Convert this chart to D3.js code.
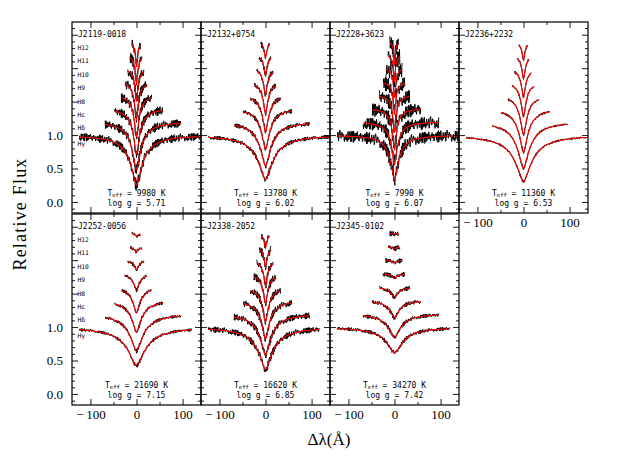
<!DOCTYPE html>
<html><head><meta charset="utf-8">
<script src="https://cdn.jsdelivr.net/npm/d3@7"></script>
<style>body{margin:0;background:#fff} svg{display:block} text{-webkit-font-smoothing:antialiased}</style>
</head><body><svg id="c" width="624" height="467"></svg>
<script>
// ---------------- data ----------------
const starNames = ["J2119-0018","J2132+0754","J2228+3623","J2236+2232","J2252-0056","J2338-2052","J2345-0102"];
const teffValues = [9980, 13780, 7990, 11360, 21690, 16620, 34270];
const loggValues = ["5.71", "6.02", "6.07", "6.53", "7.15", "6.85", "7.42"];
const lineLabels = ["Hγ","Hδ","Hε","H8","H9","H10","H11","H12"];
const lineOffsets = [0, 0.2, 0.4, 0.6, 0.8, 1.0, 1.2, 1.4];
const windowLeft  = [-124, -68, -48, -33, -25, -19, -14, -10];
const windowRight = [120, 96, 57, 33, 23, 17, 12, 9];
const hgRightEnd  = [140, 140, 140, 140, 120, 117, 120];
const hgWidth     = [16, 20, 11, 22, 24, 20, 22];
const widthRatio  = [1, 0.75, 0.55, 0.42, 0.33, 0.27, 0.22, 0.18];
const lineDepths = [
  [0.75,0.72,0.68,0.62,0.56,0.50,0.44,0.38],
  [0.67,0.66,0.62,0.56,0.48,0.40,0.32,0.25],
  [0.67,0.64,0.60,0.55,0.50,0.45,0.40,0.35],
  [0.70,0.70,0.66,0.60,0.52,0.44,0.36,0.28],
  [0.58,0.56,0.48,0.39,0.25,0.14,0.08,0.04],
  [0.63,0.62,0.58,0.52,0.45,0.38,0.30,0.22],
  [0.39,0.36,0.27,0.16,0.07,0.04,0.03,0.01]
];
const noiseLevel = [0.06, 0.03, 0.09, 0.015, 0.022, 0.045, 0.028];
const residualPattern = [0.31,-0.82,0.54,-0.12,0.97,-0.45,0.08,-0.66,0.73,-0.29,0.41,-0.93,0.18,0.62,-0.37,-0.05,0.85,-0.71,0.26,-0.19,0.58,-0.88,0.12,0.44,-0.53,0.69,-0.24,0.03,-0.77,0.91,-0.35,0.16,-0.61,0.49,-0.08,0.79,-0.96,0.22,0.37,-0.43,0.65,-0.14,-0.58,0.87,-0.31,0.05,0.71,-0.84,0.28,-0.02,0.53,-0.68,0.11,0.94,-0.39,-0.21,0.47,-0.74,0.33,0.60,-0.51,0.14,-0.90,0.76,-0.17,0.40,-0.63,0.07,0.82,-0.27,-0.46,0.57,-0.09,0.35,-0.79,0.99,-0.33,0.20,-0.55,0.67,-0.11,-0.70,0.45,0.02,-0.86,0.52,-0.23,0.74,-0.41,0.15,-0.60,0.89,-0.15,0.25,-0.98,0.63,-0.36];
const xMajorTicks = [-100, 0, 100];
const xMinorTicks = [-50, 50];
const yMajorTicks = [0, 0.5, 1.0, 1.5, 2.0, 2.5];
const yLabelTicks = [0, 0.5, 1.0];
const yMinorTicks = [-0.1,0.1,0.2,0.3,0.4,0.6,0.7,0.8,0.9,1.1,1.2,1.3,1.4,1.6,1.7,1.8,1.9,2.1,2.2,2.3,2.4,2.6];

// ---------------- layout ----------------
const svg = d3.select("#c");
const left0 = 72, panelW = 129, rowTop = [22, 214], rowH = 191;
const x = d3.scaleLinear().domain([-140, 140]).range([0, panelW]);
const y = d3.scaleLinear().domain([-0.165, 2.69]).range([rowH, 0]);
const monoFont = "'DejaVu Sans Mono', monospace";
const serifFont = "'Liberation Serif', 'Times New Roman', serif";

function model(p, k, dx) {
  const w = hgWidth[p] * widthRatio[k];
  const u = Math.abs(dx) / w;
  return 1 + lineOffsets[k] - lineDepths[p][k] / (1 + Math.pow(u, 1.6));
}

const line = d3.line().x(d => x(d[0])).y(d => y(d[1]));

starNames.forEach((name, p) => {
  const row = p < 4 ? 0 : 1, col = p < 4 ? p : p - 4;
  const gx = left0 + col * panelW, gy = rowTop[row];
  const g = svg.append("g").attr("transform", `translate(${gx},${gy})`);
  const clipId = "clip" + p;
  svg.append("clipPath").attr("id", clipId).append("rect")
    .attr("width", panelW).attr("height", rowH);
  const dg = g.append("g").attr("clip-path", `url(#${clipId})`);

  lineLabels.forEach((lab, k) => {
    const xl = windowLeft[k], xr = k === 0 ? hgRightEnd[p] : windowRight[k];
    const obs = [], mod = [];
    let j = 0;
    for (let dx = xl; dx <= xr; dx += 0.8, j++) {
      const m = model(p, k, dx);
      const amp = noiseLevel[p] * (1 + 0.06 * k) * Math.min(1.5, Math.sqrt((1 + lineOffsets[k]) / m));
      const r = residualPattern[(j * 7 + k * 29 + p * 13) % residualPattern.length];
      obs.push([dx, m + amp * r]);
    }
    for (let dx = xl; dx <= xr; dx += 0.5) mod.push([dx, model(p, k, dx)]);
    dg.append("path").datum(obs).attr("d", line)
      .attr("fill", "none").attr("stroke", "#000").attr("stroke-width", 1.0);
    dg.append("path").datum(mod).attr("d", line)
      .attr("fill", "none").attr("stroke", "#ff0000").attr("stroke-width", 1.1);
  });

  // axes (ticks inward)
  const showX = row === 1 || p === 3;
  const fmtX = d => d < 0 ? "\u2212\u2009" + Math.abs(d) : String(d);
  const ax = [
    g.append("g").attr("transform", `translate(0,${rowH})`)
      .call(d3.axisBottom(x).tickValues(xMajorTicks).tickSize(-6).tickPadding(5).tickFormat(showX ? fmtX : () => "")),
    g.append("g").attr("transform", `translate(0,${rowH})`)
      .call(d3.axisBottom(x).tickValues(xMinorTicks).tickSize(-3).tickFormat(() => "")),
    g.append("g").call(d3.axisTop(x).tickValues(xMajorTicks).tickSize(-6).tickFormat(() => "")),
    g.append("g").call(d3.axisTop(x).tickValues(xMinorTicks).tickSize(-3).tickFormat(() => "")),
    g.append("g").call(d3.axisLeft(y).tickValues(yMajorTicks).tickSize(-6).tickPadding(9)
      .tickFormat(d => (col === 0 && yLabelTicks.includes(d)) ? d3.format(".1f")(d) : "")),
    g.append("g").call(d3.axisLeft(y).tickValues(yMinorTicks).tickSize(-3).tickFormat(() => "")),
    g.append("g").attr("transform", `translate(${panelW},0)`)
      .call(d3.axisRight(y).tickValues(yMajorTicks).tickSize(-6).tickFormat(() => "")),
    g.append("g").attr("transform", `translate(${panelW},0)`)
      .call(d3.axisRight(y).tickValues(yMinorTicks).tickSize(-3).tickFormat(() => ""))
  ];
  ax.forEach(a => {
    a.select(".domain").remove();
    a.selectAll("line").attr("stroke", "#000").attr("stroke-width", 0.9);
    a.selectAll("text").attr("font-family", serifFont).attr("font-size", 13).attr("fill", "#000");
  });

  g.append("rect").attr("width", panelW).attr("height", rowH)
    .attr("fill", "none").attr("stroke", "#000").attr("stroke-width", 1.2);

  g.append("text").attr("x", 6).attr("y", 14.5).text(name)
    .attr("font-family", monoFont).attr("font-size", 8).attr("fill", "#000");

  if (col === 0) {
    lineLabels.forEach((lab, k) => {
      const off = k === 0 ? 0.13 : 0.1;
      g.append("text").attr("x", 5.5).attr("y", y(1 + lineOffsets[k] - off) + 2)
        .text(lab).attr("font-family", monoFont)
        .attr("font-size", 6.3).attr("fill", "#000");
    });
  }

  const t1 = g.append("text").attr("x", panelW / 2).attr("y", rowH - 17.5)
    .attr("text-anchor", "middle").attr("font-family", monoFont).attr("font-size", 8).attr("fill", "#000");
  t1.append("tspan").text("T");
  t1.append("tspan").text("eff").attr("font-size", 5.5).attr("dy", 1.5);
  t1.append("tspan").text(" = " + teffValues[p] + " K").attr("dy", -1.5);
  g.append("text").attr("x", panelW / 2).attr("y", rowH - 7.5)
    .attr("text-anchor", "middle").attr("font-family", monoFont).attr("font-size", 8).attr("fill", "#000")
    .text("log g = " + loggValues[p]);
});

svg.append("text").attr("transform", "translate(26,214) rotate(-90)")
  .attr("text-anchor", "middle").attr("font-family", serifFont).attr("font-size", 18)
  .attr("letter-spacing", 1.2).attr("fill", "#000").text("Relative Flux");
svg.append("text").attr("x", 329).attr("y", 445)
  .attr("text-anchor", "middle").attr("font-family", serifFont).attr("font-size", 17)
  .attr("fill", "#000").text("Δλ(Å)");
</script></body></html>
